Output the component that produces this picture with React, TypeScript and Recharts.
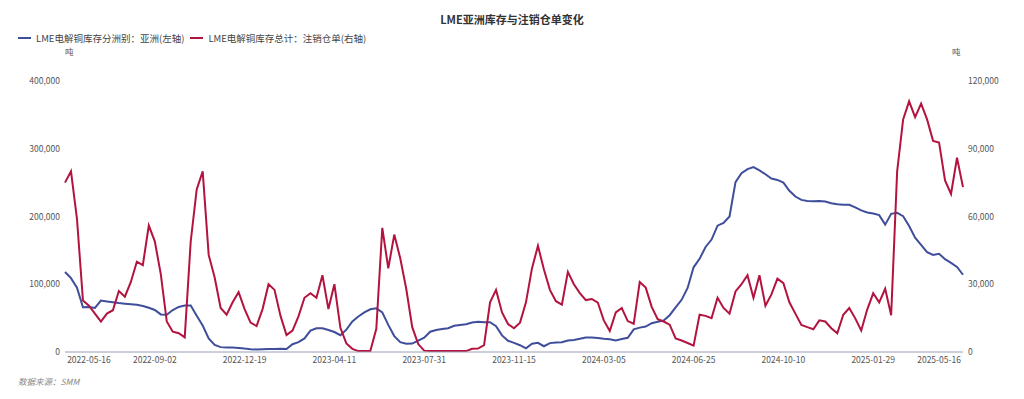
import { LineChart, Line, XAxis, YAxis, Legend } from "recharts"

const FONT = '"Noto Sans CJK SC", "Noto Sans", sans-serif'

const tickIndex = [4, 15, 30, 45, 60, 75, 90, 105, 120, 135, 146]
const tickDates = [
  "2022-05-16", "2022-09-02", "2022-12-19", "2023-04-11", "2023-07-31", "2023-11-15",
  "2024-03-05", "2024-06-25", "2024-10-10", "2025-01-29", "2025-05-16",
]

// LME电解铜库存分洲别：亚洲 (吨, 左轴)
const asiaStock = [
  118000, 109000, 95000, 66000, 66500, 65000, 76000, 74700, 73500, 72200,
  71300, 70500, 69600, 68000, 65300, 62000, 55500, 55000, 62000, 66500,
  68500, 68500, 53500, 39000, 20000, 10500, 7200, 6500, 6500, 6000,
  5000, 4200, 3800, 4000, 4300, 4600, 4800, 4500, 11500, 14500,
  20000, 31500, 35000, 35000, 32500, 29500, 24800, 33000, 45000, 52500,
  58500, 63000, 64500, 58500, 40000, 23500, 14500, 12300, 12500, 16700,
  21000, 29900, 32500, 33800, 35000, 38800, 40000, 41000, 43500, 44600,
  44000, 44000, 38000, 24500, 16500, 13500, 10000, 5500, 12200, 13500,
  8500, 13100, 14000, 14400, 17000, 17800, 19500, 21500, 21500, 20500,
  19500, 18700, 17000, 19200, 21000, 33500, 36000, 37500, 42500, 44700,
  46500, 54300, 65800, 77000, 94500, 125000, 137500, 155000, 166000, 186500,
  190500, 200000, 250800, 264000, 270000, 273000, 268000, 262400, 256000, 254000,
  250000, 238000, 229500, 224500, 223000, 222600, 223000, 222000, 219500, 218000,
  217500, 217200, 213500, 209000, 206000, 204500, 202000, 188000, 204000, 205500,
  200500, 186000, 168800, 158000, 147500, 143300, 145000, 137000, 131500, 125500,
  114000,
]

// LME电解铜库存总计：注销仓单 (吨, 右轴)
const cancelledWarrants = [
  75000, 80000, 59000, 22800, 20500, 17000, 13500, 17000, 18500, 27000,
  24500, 31000, 40000, 38500, 56000, 49000, 34500, 13500, 9000, 8300,
  6500, 49000, 72000, 80000, 43000, 33000, 19500, 16500, 22000, 26500,
  19000, 13000, 11500, 19000, 30000, 27500, 16000, 7500, 9500, 15800,
  24000, 26000, 24000, 34000, 19000, 30000, 10700, 3800, 1400, 400,
  400, 400, 10300, 55000, 37000, 52000, 41500, 28000, 11000, 3500,
  600, 400, 400, 400, 400, 400, 400, 400, 1400, 1500,
  3000, 22000, 27500, 17500, 12400, 10500, 13000, 22000, 37000, 47000,
  36500, 27500, 22500, 21000, 35500, 30000, 26100, 23000, 23500, 21900,
  14000, 9300, 17500, 19500, 13700, 12500, 31000, 28500, 20000, 14500,
  13500, 12100, 6000, 5100, 4000, 2800, 16500, 16000, 15000, 24000,
  19500, 17000, 26800, 30000, 34000, 24000, 34000, 20500, 25500, 32500,
  30500, 22000, 17000, 12000, 11000, 10100, 14000, 13500, 10500, 8300,
  16500, 19500, 14900, 9500, 18800, 26000, 22000, 28000, 16300, 80000,
  103000, 111000, 104000, 110000, 103000, 93500, 92800, 76000, 70000, 86000,
  73000,
]

const leftTicks = [0, 100000, 200000, 300000, 400000]
const rightTicks = [0, 30000, 60000, 90000, 120000]

const data = asiaStock.map((v, i) => ({ i, asia: v, cancel: cancelledWarrants[i] }))

const BLUE = "#3f4e9b"
const RED = "#b3133f"
const tickStyle = { fontSize: 8.5, fill: "#555", fontFamily: FONT }
const fmt = (v: number) => v.toLocaleString("en-US")

function LegendContent({ payload }: any) {
  return (
    <div style={{ display: "flex", alignItems: "center", fontFamily: FONT, fontSize: 9.5, color: "#444" }}>
      {(payload || []).map((p: any) => (
        <div key={p.value} style={{ display: "flex", alignItems: "center", marginRight: 6 }}>
          <span style={{ display: "inline-block", width: 13, height: 2, background: p.color, marginRight: 5 }} />
          <span>{p.value}</span>
        </div>
      ))}
    </div>
  )
}

export default function App() {
  return (
    <div style={{ position: "absolute", left: 0, top: 0, width: 1024, height: 399, background: "#fff", fontFamily: FONT }}>
      <div style={{ position: "absolute", top: 11, left: 0, width: 1024, textAlign: "center", fontSize: 11, fontWeight: 700, color: "#333", lineHeight: "16px" }}>
        LME亚洲库存与注销仓单变化
      </div>
      <div style={{ position: "absolute", top: 45, left: 65, fontSize: 8.5, color: "#555" }}>吨</div>
      <div style={{ position: "absolute", top: 45, left: 952, fontSize: 8.5, color: "#555" }}>吨</div>
      <LineChart width={1024} height={399} data={data} margin={{ top: 67, right: 6, bottom: 17, left: 10 }}>
        <Legend
          verticalAlign="top"
          align="left"
          content={<LegendContent />}
          wrapperStyle={{ top: 31, left: 18, width: "auto" }}
        />
        <XAxis
          dataKey="i"
          type="number"
          domain={[0, 150]}
          ticks={tickIndex}
          interval={0}
          tickFormatter={(v: number) => tickDates[tickIndex.indexOf(v)] ?? ""}
          tickLine={false}
          tickSize={3}
          tickMargin={2}
          axisLine={{ stroke: "#9aa0b3" }}
          tick={tickStyle}
          height={30}
        />
        <YAxis
          yAxisId="left"
          domain={[0, 400000]}
          ticks={leftTicks}
          interval={0}
          tickFormatter={fmt}
          axisLine={false}
          tickLine={false}
          tickSize={3}
          tickMargin={2}
          tick={tickStyle}
          width={55}
        />
        <YAxis
          yAxisId="right"
          orientation="right"
          domain={[0, 120000]}
          ticks={rightTicks}
          interval={0}
          tickFormatter={fmt}
          axisLine={false}
          tickLine={false}
          tickSize={3}
          tickMargin={2}
          tick={tickStyle}
          width={55}
        />
        <Line
          yAxisId="left"
          dataKey="asia"
          name="LME电解铜库存分洲别：亚洲(左轴)"
          stroke={BLUE}
          strokeWidth={2}
          dot={false}
          type="linear"
          isAnimationActive={false}
        />
        <Line
          yAxisId="right"
          dataKey="cancel"
          name="LME电解铜库存总计：注销仓单(右轴)"
          stroke={RED}
          strokeWidth={2}
          dot={false}
          type="linear"
          isAnimationActive={false}
        />
      </LineChart>
      <div style={{ position: "absolute", top: 375, left: 18, fontSize: 8.5, fontStyle: "italic", color: "#888" }}>
        数据来源：SMM
      </div>
    </div>
  )
}
